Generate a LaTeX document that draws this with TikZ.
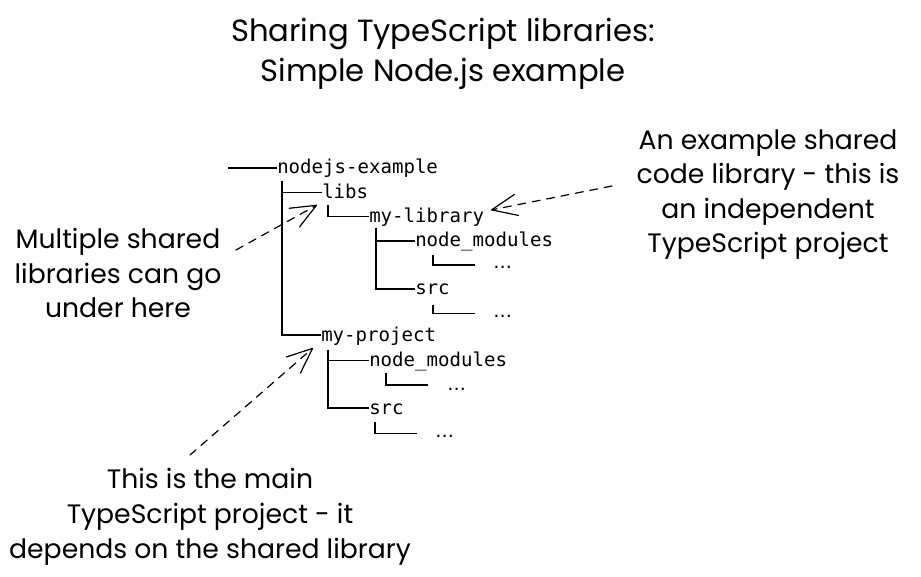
\documentclass[tikz,border=0pt]{standalone}
\usepackage{fontspec}
\usetikzlibrary{arrows.meta}
\newfontfamily\handfont{Poppins}
\newfontfamily\monofont{DejaVu Sans Mono}
\newfontfamily\dotfont{DejaVu Sans}
\begin{document}
\begin{tikzpicture}[x=0.75pt,y=-0.75pt,
  mono/.style={font=\monofont\fontsize{14.3pt}{17pt}\selectfont, inner sep=0pt, anchor=base west},
  dots/.style={font=\dotfont\fontsize{14pt}{17pt}\selectfont, inner sep=0pt, anchor=base west},
  treeline/.style={line width=0.9pt},
  hand/.style={font=\handfont\fontsize{20pt}{25.9pt}\selectfont, align=center, inner sep=0pt, anchor=base},
  titletext/.style={font=\handfont\fontsize{23pt}{30pt}\selectfont, align=center, inner sep=0pt, anchor=base},
  note/.style={line width=0.9pt, dash pattern=on 6pt off 5pt, line cap=round,
    -{Straight Barb[length=19pt,width=16pt,line cap=round,line join=round]}}]
\useasboundingbox[fill=white] (0,0) rectangle (921,577);

% title (anchor = baseline of last line)
\node[titletext] (title) at (443,82) {Sharing TypeScript libraries:\\Simple Node.js example};

% tree text
\node[mono] (root)   at (277,174)   {nodejs-example};
\node[mono] (libs)   at (322,198.5) {libs};
\node[mono] (mylib)  at (369,222.5) {my-library};
\node[mono] (nmA)    at (415,247)   {node\_modules};
\node[dots] (dotsA)  at (493,269)   {…};
\node[mono] (srcA)   at (415,295)   {src};
\node[dots] (dotsB)  at (493,318)   {…};
\node[mono] (myproj) at (321,341)   {my-project};
\node[mono] (nmB)    at (369,366.5) {node\_modules};
\node[dots] (dotsC)  at (447,390)   {…};
\node[mono] (srcB)   at (369,414)   {src};
\node[dots] (dotsD)  at (435,437)   {…};

% tree junctions
\coordinate (r0) at (228,168);
\coordinate (trunk) at (282,181);
\coordinate (t1) at (328,205);
\coordinate (t2) at (376,228);
\coordinate (t3) at (433,255);
\coordinate (t4) at (433,305);
\coordinate (t5) at (328,350);
\coordinate (t6) at (386,373);
\coordinate (t7) at (375,422);

\draw[treeline] (r0) -- ([yshift=4.5pt]root.base west);
\draw[treeline] (trunk) |- ([yshift=4.5pt]myproj.base west);
\draw[treeline] (trunk |- libs.base) ++(0,-6) -- ([yshift=4.5pt]libs.base west);
\draw[treeline] (t1) |- ([yshift=4.5pt]mylib.base west);
\draw[treeline] (t2) |- ([yshift=4.5pt]srcA.base west);
\draw[treeline] (t2 |- nmA.base) ++(0,-6) -- ([yshift=4.5pt]nmA.base west);
\draw[treeline] (t3) |- ++(42,10);
\draw[treeline] (t4) |- ++(42,8.5);
\draw[treeline] (t5) |- ([yshift=4.5pt]srcB.base west);
\draw[treeline] (t5 |- nmB.base) ++(0,-6) -- ([yshift=4.5pt]nmB.base west);
\draw[treeline] (t6) |- ++(42,12);
\draw[treeline] (t7) |- ++(42,11.5);

% annotations (anchor = baseline of last line)
\node[hand] (annLeft) at (118,318) {Multiple shared\\libraries can go\\under here};
\node[hand] (annRight) at (768,253) {An example shared\\code library - this is\\an independent\\TypeScript project};
\node[hand] (annBottom) at (210,558) {This is the main\\TypeScript project - it\\depends on the shared library};

% arrows
\coordinate (aL0) at (236,250);
\coordinate (aL1) at (317,205);
\coordinate (aR0) at (612,186);
\coordinate (aR1) at (491,210);
\coordinate (aB0) at (190,455);
\coordinate (aB1) at (313,348);
\draw[note] (aL0) -- (aL1);
\draw[note] (aR0) -- (aR1);
\draw[note] (aB0) -- (aB1);
\end{tikzpicture}
\end{document}
